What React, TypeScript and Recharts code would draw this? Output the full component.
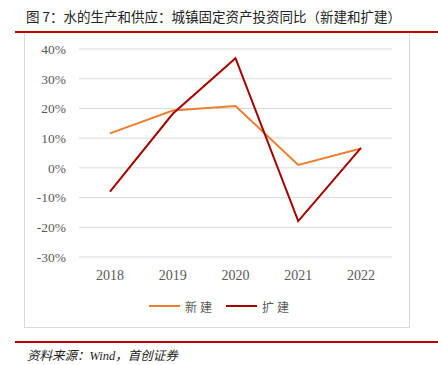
import { LineChart, Line, XAxis, YAxis, CartesianGrid, Legend } from "recharts";

const years = ["2018", "2019", "2020", "2021", "2022"];
const newBuild = [11.6, 19.3, 20.8, 1.0, 6.5];
const expansion = [-8.0, 18.2, 36.9, -17.9, 6.7];
const yTicks = [-30, -20, -10, 0, 10, 20, 30, 40];

const data = years.map((y, i) => ({ year: y, xinjian: newBuild[i], kuojian: expansion[i] }));

const ORANGE = "#ED7D31";
const DARKRED = "#A50000";
const serif = "'Liberation Serif', 'Times New Roman', serif";
const cjk = "'Noto Sans CJK SC', 'Noto Sans', sans-serif";

function LegendBox() {
  const items = [
    { name: "新建", color: ORANGE },
    { name: "扩建", color: DARKRED },
  ];
  return (
    <div style={{ display: "flex", justifyContent: "center", alignItems: "center", height: 20, paddingLeft: 24 }}>
      {items.map((it, i) => (
        <div key={it.name} style={{ display: "flex", alignItems: "center", marginLeft: i === 0 ? 0 : 11 }}>
          <div style={{ width: 31, height: 2, background: it.color, marginRight: 5 }} />
          <span style={{ fontFamily: cjk, fontSize: 12, color: "#595959", letterSpacing: 3 }}>{it.name}</span>
        </div>
      ))}
    </div>
  );
}

export default function App() {
  return (
    <div style={{ position: "relative", width: 438, height: 365, background: "#fff", overflow: "hidden" }}>
      <style>{"body{margin:0}"}</style>
      <div style={{ position: "absolute", left: 26, top: 6, fontFamily: cjk, fontSize: 13.5, color: "#222", whiteSpace: "pre" }}>
        {"图 7：水的生产和供应：城镇固定资产投资同比（新建和扩建）"}
      </div>
      <div style={{ position: "absolute", left: 15, top: 31, width: 423, height: 2, background: "#C00000" }} />
      <div style={{ position: "absolute", left: 24, top: 33, width: 384, height: 294, border: "1px solid #d9d9d9", borderTop: "none" }}>
        <LineChart width={384} height={294} data={data} margin={{ top: 16, right: 17, left: 0, bottom: 11 }}>
          <CartesianGrid vertical={false} stroke="#d9d9d9" strokeWidth={1} />
          <XAxis
            dataKey="year"
            axisLine={false}
            tickLine={false}
            height={39}
            padding={{ left: 31, right: 31 }}
            tick={{ fontSize: 14, fill: "#595959", fontFamily: serif }}
            tickMargin={7}
          />
          <YAxis
            domain={[-30, 40]}
            ticks={yTicks}
            tickFormatter={(v: number) => `${v}%`}
            axisLine={false}
            tickLine={false}
            width={54}
            tickSize={6}
            tickMargin={7}
            tick={{ fontSize: 13.5, fill: "#595959", fontFamily: serif }}
          />
          <Legend verticalAlign="bottom" content={() => <LegendBox />} />
          <Line type="linear" dataKey="xinjian" name="新建" stroke={ORANGE} strokeWidth={2} dot={false} isAnimationActive={false} />
          <Line type="linear" dataKey="kuojian" name="扩建" stroke={DARKRED} strokeWidth={2} dot={false} isAnimationActive={false} />
        </LineChart>
      </div>
      <div style={{ position: "absolute", left: 15, top: 341, width: 423, height: 2, background: "#C00000" }} />
      <div style={{ position: "absolute", left: 27, top: 345, fontFamily: serif + ", 'Noto Sans CJK SC'", fontStyle: "italic", fontSize: 12.5, color: "#222", whiteSpace: "nowrap" }}>
        资料来源：Wind，首创证券
      </div>
    </div>
  );
}
